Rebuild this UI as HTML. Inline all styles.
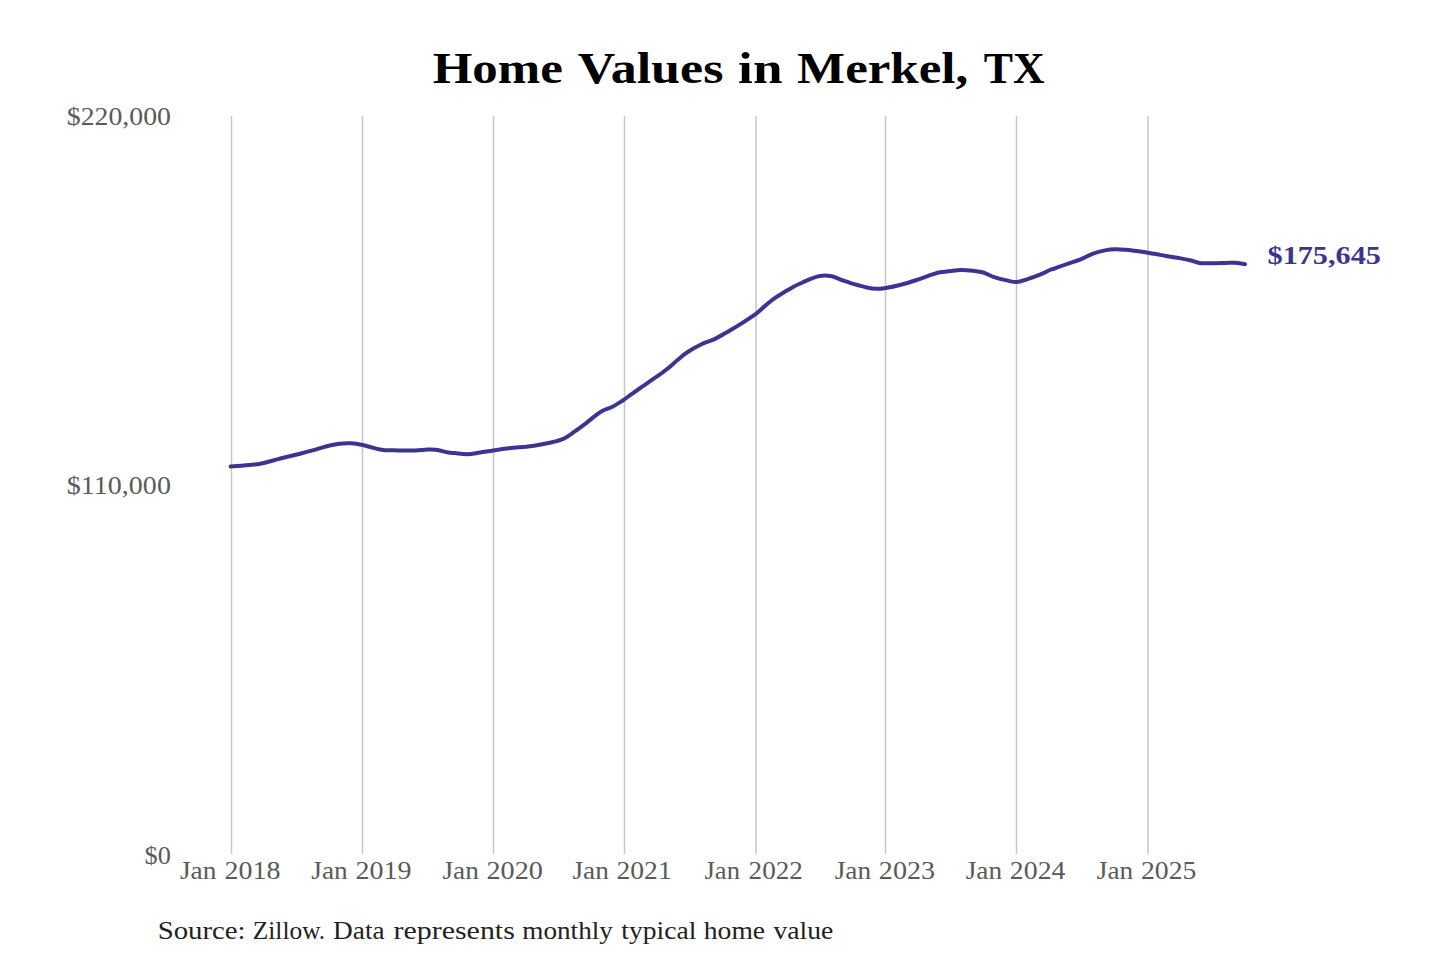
<!DOCTYPE html>
<html><head><meta charset="utf-8">
<style>
html,body{margin:0;padding:0;background:#fff;}
body{width:1440px;height:960px;overflow:hidden;position:relative;}
svg{position:absolute;left:0;top:0;}
text{font-family:"Liberation Serif",serif;}
</style></head>
<body>
<svg width="1440" height="960" viewBox="0 0 1440 960">
<rect width="1440" height="960" fill="#fff"/>
<g stroke="#c6c6c6" stroke-width="1.5">
<line x1="231.5" y1="116" x2="231.5" y2="854"/>
<line x1="362.5" y1="116" x2="362.5" y2="854"/>
<line x1="493.5" y1="116" x2="493.5" y2="854"/>
<line x1="624.5" y1="116" x2="624.5" y2="854"/>
<line x1="756" y1="116" x2="756" y2="854"/>
<line x1="885.5" y1="116" x2="885.5" y2="854"/>
<line x1="1016.5" y1="116" x2="1016.5" y2="854"/>
<line x1="1148" y1="116" x2="1148" y2="854"/>
</g>
<path d="M230.6,466.4 C232.4,466.3 237.8,466.0 241.7,465.7 C245.6,465.4 250.7,465.0 254.2,464.6 C257.7,464.2 259.0,464.1 262.5,463.3 C266.0,462.5 270.8,461.1 275.0,460.0 C279.2,458.9 283.3,457.8 287.5,456.8 C291.7,455.8 295.8,454.8 300.0,453.8 C304.2,452.7 308.3,451.6 312.5,450.4 C316.7,449.2 320.8,447.8 325.0,446.7 C329.2,445.6 333.2,444.6 337.5,444.0 C341.8,443.4 346.6,443.1 350.8,443.3 C355.0,443.5 358.8,444.2 362.5,445.0 C366.2,445.8 369.8,447.1 373.3,447.9 C376.8,448.7 379.1,449.6 383.3,450.0 C387.5,450.4 393.0,450.3 398.3,450.4 C403.6,450.5 410.1,450.5 415.0,450.4 C419.9,450.3 424.0,449.7 427.5,449.6 C431.0,449.5 432.3,449.3 435.8,449.8 C439.3,450.3 445.1,451.9 448.3,452.5 C451.5,453.1 451.8,452.8 455.0,453.1 C458.2,453.4 463.3,454.3 467.5,454.2 C471.7,454.1 475.7,453.1 480.0,452.5 C484.3,451.9 488.4,451.1 493.3,450.4 C498.2,449.7 503.8,448.9 509.2,448.3 C514.6,447.7 520.9,447.2 525.8,446.7 C530.6,446.1 534.1,445.7 538.3,445.0 C542.5,444.3 546.6,443.5 550.8,442.5 C555.0,441.5 559.2,440.6 563.3,438.8 C567.4,436.9 571.5,433.7 575.2,431.2 C578.9,428.7 581.9,426.4 585.3,423.8 C588.7,421.1 592.7,417.7 595.5,415.6 C598.3,413.5 599.4,412.4 602.2,410.9 C605.0,409.4 609.0,408.5 612.4,406.8 C615.8,405.1 619.1,402.9 622.5,400.7 C625.9,398.4 629.3,395.7 632.7,393.3 C636.1,390.9 639.5,388.6 642.9,386.2 C646.3,383.8 649.1,381.8 653.0,379.1 C656.9,376.4 662.2,373.0 666.2,369.8 C670.3,366.6 674.1,362.9 677.5,360.0 C680.9,357.1 683.0,355.1 686.9,352.5 C690.8,349.9 696.2,346.8 700.9,344.5 C705.6,342.2 710.3,341.2 715.0,338.9 C719.7,336.6 724.9,333.3 729.1,330.9 C733.3,328.5 735.5,327.3 740.0,324.4 C744.5,321.5 751.7,316.8 755.9,313.8 C760.1,310.7 761.9,308.5 765.0,305.9 C768.1,303.3 771.3,300.6 774.4,298.4 C777.5,296.2 780.6,294.4 783.8,292.5 C786.9,290.6 790.0,288.6 793.1,286.9 C796.2,285.2 799.4,283.9 802.5,282.5 C805.6,281.1 809.0,279.5 811.9,278.4 C814.8,277.3 816.7,276.3 820.0,275.9 C823.3,275.5 828.1,275.6 831.7,276.2 C835.3,276.9 838.0,278.7 841.7,280.0 C845.5,281.3 850.0,282.9 854.2,284.2 C858.4,285.4 863.0,286.7 866.7,287.5 C870.5,288.3 873.5,288.7 876.7,288.8 C879.9,288.8 881.9,288.5 885.8,287.9 C889.7,287.3 894.9,286.3 900.0,285.0 C905.1,283.7 911.2,281.8 916.7,280.0 C922.2,278.2 929.4,275.5 933.3,274.2 C937.2,272.9 937.2,272.8 940.0,272.3 C942.8,271.8 946.5,271.5 950.0,271.1 C953.5,270.7 956.9,270.1 960.8,270.0 C964.7,269.9 969.5,270.4 973.3,270.8 C977.0,271.2 979.8,271.4 983.3,272.5 C986.8,273.6 990.3,275.8 994.2,277.1 C998.1,278.4 1003.0,279.6 1006.7,280.4 C1010.5,281.2 1013.2,282.3 1016.7,282.1 C1020.2,281.9 1023.6,280.4 1027.5,279.2 C1031.4,277.9 1036.2,276.1 1040.0,274.6 C1043.8,273.1 1047.5,271.1 1050.0,270.0 C1052.5,268.9 1052.1,269.3 1055.0,268.3 C1057.9,267.3 1063.3,265.2 1067.5,263.8 C1071.7,262.3 1075.8,261.3 1080.0,259.6 C1084.2,257.9 1088.3,255.3 1092.5,253.8 C1096.7,252.2 1101.2,251.1 1105.0,250.4 C1108.8,249.7 1111.5,249.4 1115.0,249.3 C1118.5,249.2 1121.9,249.5 1125.8,249.8 C1129.7,250.1 1134.6,250.8 1138.3,251.2 C1142.0,251.7 1144.3,252.1 1147.9,252.7 C1151.5,253.3 1156.2,254.2 1160.0,254.9 C1163.8,255.6 1166.9,256.1 1170.4,256.7 C1173.9,257.3 1177.3,257.8 1180.8,258.4 C1184.3,259.0 1188.1,259.8 1191.2,260.5 C1194.4,261.2 1196.1,262.4 1199.6,262.9 C1203.1,263.4 1207.7,263.3 1212.1,263.3 C1216.5,263.3 1222.2,263.0 1226.0,262.9 C1229.8,262.8 1231.8,262.6 1235.0,262.8 C1238.2,263.0 1243.3,264.0 1245.0,264.2" fill="none" stroke="#3a3593" stroke-width="4" stroke-linecap="round" stroke-linejoin="round"/>
<text x="432.76" y="82.80" font-size="43.7" font-weight="bold" fill="#000" textLength="130.14" lengthAdjust="spacingAndGlyphs">Home</text>
<text x="577.85" y="82.80" font-size="43.7" font-weight="bold" fill="#000" textLength="145.55" lengthAdjust="spacingAndGlyphs">Values</text>
<text x="738.10" y="82.80" font-size="43.7" font-weight="bold" fill="#000" textLength="44.38" lengthAdjust="spacingAndGlyphs">in</text>
<text x="797.10" y="82.80" font-size="43.7" font-weight="bold" fill="#000" textLength="171.04" lengthAdjust="spacingAndGlyphs">Merkel,</text>
<text x="983.68" y="82.80" font-size="43.7" font-weight="bold" fill="#000" textLength="60.90" lengthAdjust="spacingAndGlyphs">TX</text>
<text x="66.86" y="124.60" font-size="26" font-weight="normal" fill="#5a5a5a" textLength="104.04" lengthAdjust="spacingAndGlyphs">$220,000</text>
<text x="66.86" y="493.80" font-size="26" font-weight="normal" fill="#5a5a5a" textLength="104.04" lengthAdjust="spacingAndGlyphs">$110,000</text>
<text x="144.60" y="863.90" font-size="26" font-weight="normal" fill="#5a5a5a" textLength="26.30" lengthAdjust="spacingAndGlyphs">$0</text>
<text x="180.00" y="879.40" font-size="26" font-weight="normal" fill="#5a5a5a" textLength="36.40" lengthAdjust="spacingAndGlyphs">Jan</text>
<text x="224.60" y="879.40" font-size="26" font-weight="normal" fill="#5a5a5a" textLength="55.88" lengthAdjust="spacingAndGlyphs">2018</text>
<text x="311.34" y="879.40" font-size="26" font-weight="normal" fill="#5a5a5a" textLength="36.40" lengthAdjust="spacingAndGlyphs">Jan</text>
<text x="355.44" y="879.40" font-size="26" font-weight="normal" fill="#5a5a5a" textLength="55.96" lengthAdjust="spacingAndGlyphs">2019</text>
<text x="442.42" y="879.40" font-size="26" font-weight="normal" fill="#5a5a5a" textLength="36.40" lengthAdjust="spacingAndGlyphs">Jan</text>
<text x="486.52" y="879.40" font-size="26" font-weight="normal" fill="#5a5a5a" textLength="56.38" lengthAdjust="spacingAndGlyphs">2020</text>
<text x="572.42" y="879.40" font-size="26" font-weight="normal" fill="#5a5a5a" textLength="36.40" lengthAdjust="spacingAndGlyphs">Jan</text>
<text x="616.52" y="879.40" font-size="26" font-weight="normal" fill="#5a5a5a" textLength="55.20" lengthAdjust="spacingAndGlyphs">2021</text>
<text x="704.50" y="879.40" font-size="26" font-weight="normal" fill="#5a5a5a" textLength="35.50" lengthAdjust="spacingAndGlyphs">Jan</text>
<text x="748.60" y="879.40" font-size="26" font-weight="normal" fill="#5a5a5a" textLength="54.30" lengthAdjust="spacingAndGlyphs">2022</text>
<text x="834.76" y="879.40" font-size="26" font-weight="normal" fill="#5a5a5a" textLength="36.40" lengthAdjust="spacingAndGlyphs">Jan</text>
<text x="878.86" y="879.40" font-size="26" font-weight="normal" fill="#5a5a5a" textLength="56.20" lengthAdjust="spacingAndGlyphs">2023</text>
<text x="965.76" y="879.40" font-size="26" font-weight="normal" fill="#5a5a5a" textLength="36.40" lengthAdjust="spacingAndGlyphs">Jan</text>
<text x="1009.86" y="879.40" font-size="26" font-weight="normal" fill="#5a5a5a" textLength="55.56" lengthAdjust="spacingAndGlyphs">2024</text>
<text x="1096.84" y="879.40" font-size="26" font-weight="normal" fill="#5a5a5a" textLength="36.40" lengthAdjust="spacingAndGlyphs">Jan</text>
<text x="1140.94" y="879.40" font-size="26" font-weight="normal" fill="#5a5a5a" textLength="55.38" lengthAdjust="spacingAndGlyphs">2025</text>
<text x="1267.52" y="263.90" font-size="26" font-weight="bold" fill="#3a3590" textLength="113.38" lengthAdjust="spacingAndGlyphs">$175,645</text>
<text x="157.70" y="938.50" font-size="26" font-weight="normal" fill="#222" textLength="87.85" lengthAdjust="spacingAndGlyphs">Source:</text>
<text x="252.76" y="938.50" font-size="26" font-weight="normal" fill="#222" textLength="72.46" lengthAdjust="spacingAndGlyphs">Zillow.</text>
<text x="333.10" y="938.50" font-size="26" font-weight="normal" fill="#222" textLength="51.48" lengthAdjust="spacingAndGlyphs">Data</text>
<text x="393.50" y="938.50" font-size="26" font-weight="normal" fill="#222" textLength="121.32" lengthAdjust="spacingAndGlyphs">represents</text>
<text x="522.26" y="938.50" font-size="26" font-weight="normal" fill="#222" textLength="90.66" lengthAdjust="spacingAndGlyphs">monthly</text>
<text x="621.34" y="938.50" font-size="26" font-weight="normal" fill="#222" textLength="75.06" lengthAdjust="spacingAndGlyphs">typical</text>
<text x="703.84" y="938.50" font-size="26" font-weight="normal" fill="#222" textLength="61.24" lengthAdjust="spacingAndGlyphs">home</text>
<text x="773.42" y="938.50" font-size="26" font-weight="normal" fill="#222" textLength="59.90" lengthAdjust="spacingAndGlyphs">value</text>
</svg>
</body></html>
